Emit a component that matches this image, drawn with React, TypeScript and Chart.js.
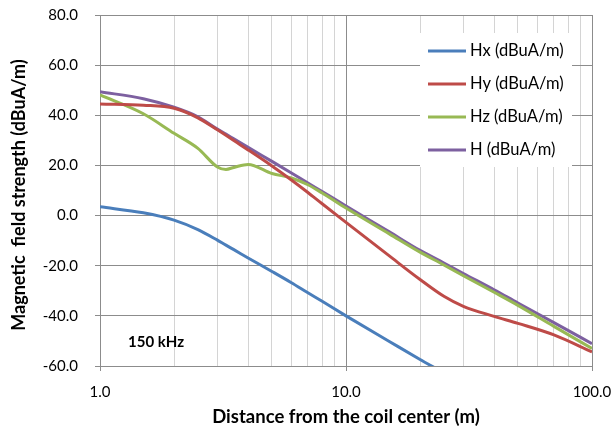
import React, { useEffect, useRef } from "react";
import { Chart, registerables } from "chart.js";

Chart.register(...registerables);

const distances = [1, 1.5, 2, 2.5, 3, 3.25, 3.5, 4, 5, 6, 7, 8, 10, 15, 20, 25, 30, 40, 50, 70, 100];
const hx = [3.5, 1.1, -1.8, -5.6, -9.8, -11.8, -13.6, -16.9, -22.3, -26.8, -30.8, -34.2, -40.0, -50.2, -57.4, -62.8, -67.6, null, null, null, null];
const hy = [44.5, 44.0, 42.8, 39.0, 34.2, 32.0, 29.9, 26.2, 19.8, 14.2, 9.2, 4.7, -2.7, -16.1, -25.5, -32.2, -36.2, -40.2, -43.0, -47.6, -54.4];
const hz = [48.1, 40.6, 32.8, 26.8, 19.4, 18.4, 19.2, 20.4, 16.8, 15.0, 12.3, 9.0, 3.0, -7.3, -14.6, -19.7, -24.0, -30.6, -35.8, -44.2, -53.0];
const hTotal = [49.4, 46.6, 43.2, 39.4, 34.5, 32.5, 30.6, 27.2, 21.6, 17.0, 13.0, 9.6, 3.8, -6.5, -13.9, -18.9, -23.1, -29.6, -34.9, -42.7, -51.1];

const seriesLabels = ["Hx (dBuA/m)", "Hy (dBuA/m)", "Hz (dBuA/m)", "H (dBuA/m)"];
const seriesColors = ["#4a7ebb", "#be4b48", "#98b954", "#7d60a0"];
const xTickValues = [1, 2, 3, 4, 5, 6, 7, 8, 9, 10, 20, 30, 40, 50, 60, 70, 80, 90, 100];
const majorX = [1, 10, 100];

const yTitle = "Magnetic  field strength (dBuA/m)";
const xTitle = "Distance from the coil center (m)";
const note = "150 kHz";

const FONT = "Lato, 'Liberation Sans', sans-serif";

function toPoints(vals: (number | null)[]) {
  return distances.map((d, i) => ({ x: d, y: vals[i] }));
}

const overlayPlugin = {
  id: "overlay",
  afterDraw(chart: any) {
    const { ctx, chartArea } = chart;
    ctx.save();
    ctx.fillStyle = "#000";
    ctx.font = `bold 18px ${FONT}`;
    ctx.textAlign = "center";
    ctx.textBaseline = "middle";
    ctx.translate(19, 195);
    ctx.rotate(-Math.PI / 2);
    ctx.fillText(yTitle, 0, 0);
    ctx.restore();

    ctx.save();
    ctx.fillStyle = "#000";
    ctx.font = `bold 18.5px ${FONT}`;
    ctx.textAlign = "center";
    ctx.textBaseline = "middle";
    ctx.fillText(xTitle, (chartArea.left + chartArea.right) / 2, 417);

    ctx.font = `bold 15px ${FONT}`;
    ctx.textAlign = "left";
    ctx.fillText(note, chartArea.left + 28, 342);

    ctx.fillStyle = "#fff";
    ctx.fillRect(420, 33, 152, 134);
    const ds = chart.data.datasets;
    ds.forEach((d: any, i: number) => {
      const y = 51 + i * 33;
      ctx.strokeStyle = d.borderColor;
      ctx.lineWidth = 3;
      ctx.beginPath();
      ctx.moveTo(428, y);
      ctx.lineTo(466, y);
      ctx.stroke();
      ctx.fillStyle = "#000";
      ctx.font = `16.5px ${FONT}`;
      ctx.textAlign = "left";
      ctx.textBaseline = "middle";
      ctx.fillText(d.label, 470, y);
    });
    ctx.restore();
  },
};

export default function App() {
  const ref = useRef<HTMLCanvasElement>(null);
  useEffect(() => {
    if (!ref.current) return;
    const series = [hx, hy, hz, hTotal];
    const chart = new Chart(ref.current, {
      type: "line",
      data: {
        datasets: series.map((s, i) => ({
          label: seriesLabels[i],
          data: toPoints(s),
          borderColor: seriesColors[i],
          backgroundColor: seriesColors[i],
          borderWidth: 3,
          pointRadius: 0,
          cubicInterpolationMode: "monotone",
          fill: false,
          spanGaps: false,
        })),
      },
      options: {
        responsive: false,
        animation: false,
        layout: { padding: { top: 15, right: 21, left: 0, bottom: 0 } },
        plugins: { legend: { display: false }, tooltip: { enabled: false } },
        scales: {
          x: {
            type: "logarithmic",
            min: 1,
            max: 100,
            afterBuildTicks: (scale: any) => {
              scale.ticks = xTickValues.map((v) => ({ value: v, major: majorX.includes(v) }));
            },
            afterFit: (scale: any) => {
              scale.height = 68;
              scale.paddingLeft = 0;
              scale.paddingRight = 0;
            },
            ticks: {
              autoSkip: false,
              maxRotation: 0,
              padding: 12,
              color: "#000",
              font: { family: FONT, size: 15 },
              callback: (v: any) => (majorX.includes(Number(v)) ? Number(v).toFixed(1) : ""),
            },
            grid: {
              color: (c: any) => (c.tick && majorX.includes(c.tick.value) ? "#8c8c8c" : "#d4d4d4"),
              tickColor: (c: any) => (c.tick && majorX.includes(c.tick.value) ? "#8c8c8c" : "rgba(0,0,0,0)"),
              tickLength: 5,
              lineWidth: 1,
            },
            border: { color: "#8c8c8c" },
          },
          y: {
            type: "linear",
            min: -60,
            max: 80,
            afterFit: (scale: any) => {
              scale.width = 100;
              scale.paddingTop = 0;
              scale.paddingBottom = 0;
            },
            ticks: {
              stepSize: 20,
              padding: 17,
              color: "#000",
              font: { family: FONT, size: 15 },
              callback: (v: any) => Number(v).toFixed(1),
            },
            grid: { color: "#8c8c8c", tickLength: 5, tickColor: "#8c8c8c" },
            border: { color: "#8c8c8c" },
          },
        },
      },
      plugins: [overlayPlugin],
    } as any);
    return () => chart.destroy();
  }, []);
  return (
    <div style={{ position: "absolute", left: 0, top: 0, width: 613, height: 434, background: "#fff" }}>
      <canvas ref={ref} width={613} height={434} />
    </div>
  );
}
